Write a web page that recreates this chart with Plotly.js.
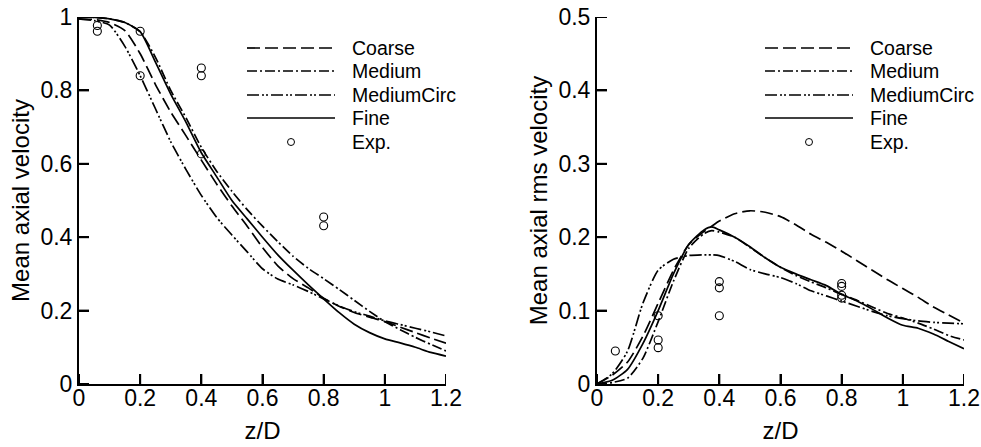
<!DOCTYPE html>
<html>
<head>
<meta charset="utf-8">
<script src="https://cdn.plot.ly/plotly-3.0.1.min.js"></script>
<style>html,body{margin:0;padding:0;background:#fff;}#chart{width:981px;height:447px;}</style>
</head>
<body>
<div id="chart"></div>
<script>
// ---------- data ----------
const seriesNames = ["Coarse", "Medium", "MediumCirc", "Fine"];
const expName = "Exp.";

// Left panel: mean axial velocity
const zLeft = [0,0.05,0.1,0.15,0.2,0.25,0.3,0.35,0.4,0.45,0.5,0.55,0.6,0.65,0.7,0.75,0.8,0.85,0.9,0.95,1.0,1.05,1.1,1.15,1.2];
const meanCoarse     = [0.995,0.993,0.985,0.963,0.9,0.816,0.741,0.676,0.61,0.545,0.485,0.43,0.372,0.322,0.287,0.262,0.234,0.212,0.195,0.182,0.17,0.155,0.14,0.125,0.111];
const meanMedium     = [1.0,0.999,0.995,0.985,0.96,0.89,0.8,0.725,0.645,0.58,0.525,0.475,0.43,0.388,0.348,0.315,0.287,0.258,0.228,0.198,0.17,0.148,0.127,0.108,0.09];
const meanMediumCirc = [0.995,0.99,0.978,0.92,0.84,0.75,0.66,0.584,0.514,0.454,0.406,0.36,0.314,0.286,0.27,0.252,0.232,0.213,0.197,0.185,0.172,0.162,0.152,0.142,0.131];
const meanFine       = [1.0,0.999,0.995,0.985,0.96,0.877,0.79,0.713,0.63,0.565,0.5,0.45,0.4,0.352,0.31,0.27,0.232,0.195,0.163,0.14,0.123,0.112,0.1,0.086,0.076];
const expMeanZ = [0.06,0.06,0.2,0.2,0.4,0.4,0.4,0.8,0.8];
const expMean  = [0.977,0.961,0.961,0.84,0.861,0.84,0.627,0.455,0.431];

// Right panel: mean axial rms velocity
const zRight = [0,0.05,0.1,0.15,0.2,0.25,0.3,0.35,0.375,0.4,0.45,0.5,0.55,0.6,0.65,0.7,0.75,0.8,0.85,0.9,0.95,1.0,1.05,1.1,1.15,1.2];
const rmsCoarse     = [0,0.012,0.03,0.065,0.11,0.155,0.19,0.208,0.215,0.222,0.232,0.236,0.234,0.228,0.217,0.204,0.193,0.181,0.168,0.155,0.142,0.13,0.118,0.105,0.094,0.083];
const rmsMedium     = [0,0.002,0.008,0.035,0.085,0.14,0.185,0.205,0.209,0.207,0.2,0.186,0.172,0.159,0.148,0.139,0.131,0.122,0.114,0.105,0.096,0.09,0.083,0.075,0.066,0.06];
const rmsMediumCirc = [0,0.014,0.045,0.11,0.155,0.17,0.175,0.176,0.176,0.175,0.167,0.156,0.15,0.145,0.137,0.127,0.12,0.113,0.106,0.099,0.093,0.089,0.086,0.084,0.083,0.082];
const rmsFine       = [0,0.005,0.02,0.055,0.1,0.15,0.19,0.21,0.214,0.21,0.2,0.187,0.172,0.159,0.15,0.142,0.134,0.122,0.113,0.102,0.09,0.08,0.076,0.068,0.058,0.048];
const expRmsZ = [0.06,0.2,0.2,0.2,0.4,0.4,0.4,0.8,0.8,0.8,0.8];
const expRms  = [0.045,0.093,0.06,0.0495,0.1395,0.131,0.093,0.137,0.133,0.121,0.117];

// tick values
const xTicks = [0,0.2,0.4,0.6,0.8,1.0,1.2];
const yTicksLeft = [0,0.2,0.4,0.6,0.8,1.0];
const yTicksRight = [0,0.1,0.2,0.3,0.4,0.5];

const xTitle = "z/D";
const yTitleLeft = "Mean axial velocity";
const yTitleRight = "Mean axial rms velocity";

// ---------- styles ----------
const FONT = "Liberation Sans, Arial, Helvetica, sans-serif";
const dashes = ["13px,5px", "10px,3px,2px,3px", "12px,3px,2px,2px,2px,3px", "solid"];
const LW = 1.7;
const W = 981, H = 447;
const M = {l: 0, r: 0, t: 17, b: 63};
const xDomL = [79/W, 446/W], xDomR = [597/W, 964/W];
const xRange = [0, 1.2], yRangeL = [0, 1], yRangeR = [0, 0.5];
const TICKLEN = 10;

const leftSeries = [meanCoarse, meanMedium, meanMediumCirc, meanFine];
const rightSeries = [rmsCoarse, rmsMedium, rmsMediumCirc, rmsFine];

const traces = [];
seriesNames.forEach((n, i) => {
  traces.push({x: zLeft, y: leftSeries[i], type: "scatter", mode: "lines", name: n,
    line: {color: "#000", width: LW, dash: dashes[i], shape: "spline", smoothing: 0.6},
    xaxis: "x", yaxis: "y", showlegend: false, hoverinfo: "skip"});
  traces.push({x: zRight, y: rightSeries[i], type: "scatter", mode: "lines", name: n,
    line: {color: "#000", width: LW, dash: dashes[i], shape: "spline", smoothing: 0.6},
    xaxis: "x2", yaxis: "y2", showlegend: false, hoverinfo: "skip"});
});
const expMarker = {symbol: "circle-open", size: 8, color: "#000", line: {color: "#000", width: 1.1}};
traces.push({x: expMeanZ, y: expMean, type: "scatter", mode: "markers", name: expName,
  marker: expMarker, xaxis: "x", yaxis: "y", showlegend: false});
traces.push({x: expRmsZ, y: expRms, type: "scatter", mode: "markers", name: expName,
  marker: expMarker, xaxis: "x2", yaxis: "y2", showlegend: false});

// inward tick marks as axis-scaled line segments (length TICKLEN px)
const plotH = H - M.t - M.b;
function tickTrace(xa, ya, xDom, yRange, yt) {
  const xPx = (xDom[1] - xDom[0]) * (W - M.l - M.r);
  const dx = TICKLEN * (xRange[1] - xRange[0]) / xPx;
  const dy = TICKLEN * (yRange[1] - yRange[0]) / plotH;
  const xs = [], ys = [];
  xTicks.forEach(v => { xs.push(v, v, null); ys.push(yRange[0], yRange[0] + dy, null); });
  yt.forEach(v => { xs.push(xRange[0], xRange[0] + dx, null); ys.push(v, v, null); });
  return {x: xs, y: ys, type: "scatter", mode: "lines", xaxis: xa, yaxis: ya,
    line: {color: "#000", width: 2}, cliponaxis: false, connectgaps: false,
    showlegend: false, hoverinfo: "skip"};
}
traces.push(tickTrace("x", "y", xDomL, yRangeL, yTicksLeft));
traces.push(tickTrace("x2", "y2", xDomR, yRangeR, yTicksRight));

// ---------- layout ----------
function ax(isX, domain, range, tickvals, anchor, titleText) {
  const a = {
    domain: domain, range: range, tickmode: "array", tickvals: tickvals, anchor: anchor,
    showline: true, linecolor: "#000", linewidth: 2, mirror: false,
    ticks: "inside", ticklen: TICKLEN, tickwidth: 2, tickcolor: "#000",
    showgrid: false, zeroline: false,
    tickfont: {family: FONT, size: 23, color: "#000"},
    title: {text: titleText, font: {family: FONT, size: 24, color: "#000"}}
  };
  if (isX) { a.ticklabelstandoff = -8; a.title.standoff = 13; }
  else { a.title.standoff = 4; }
  return a;
}

const layout = {
  width: W, height: H,
  margin: M,
  paper_bgcolor: "#fff", plot_bgcolor: "#fff",
  showlegend: false,
  font: {family: FONT, color: "#000"},
  xaxis: ax(true, xDomL, xRange, xTicks, "y", xTitle),
  yaxis: ax(false, [0, 1], yRangeL, yTicksLeft, "x", yTitleLeft),
  xaxis2: ax(true, xDomR, xRange, xTicks, "y2", xTitle),
  yaxis2: ax(false, [0, 1], yRangeR, yTicksRight, "x2", yTitleRight),
  shapes: [], annotations: []
};

// custom legends (long line samples)
const legendNames = seriesNames.concat([expName]);
const legendRowsPx = [48, 71, 95, 118, 142];
const legendBoxes = [{x0: 247, x1: 335, tx: 350}, {x0: 765, x1: 853, tx: 868}];
legendBoxes.forEach(b => {
  legendNames.forEach((n, i) => {
    const yp = (H - M.b - legendRowsPx[i]) / plotH;
    if (i < seriesNames.length) {
      layout.shapes.push({type: "line", xref: "paper", yref: "paper",
        x0: b.x0 / W, x1: b.x1 / W, y0: yp, y1: yp,
        line: {color: "#000", width: LW, dash: dashes[i]}});
    } else {
      const xc = (b.x0 + b.x1) / 2 / W;
      layout.shapes.push({type: "circle", xref: "paper", yref: "paper",
        xsizemode: "pixel", ysizemode: "pixel", xanchor: xc, yanchor: yp,
        x0: -3.5, x1: 3.5, y0: -3.5, y1: 3.5, line: {color: "#000", width: 1}});
    }
    layout.annotations.push({xref: "paper", yref: "paper", x: b.tx / W, y: yp,
      xanchor: "left", yanchor: "middle", showarrow: false, text: n,
      font: {family: FONT, size: 19.5, color: "#000"}});
  });
});

Plotly.newPlot("chart", traces, layout, {staticPlot: true, displayModeBar: false});
</script>
</body>
</html>
